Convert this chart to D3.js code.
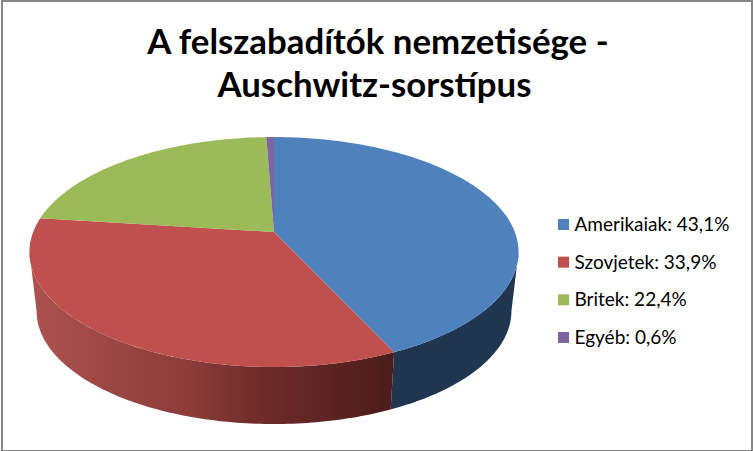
<!DOCTYPE html>
<html>
<head>
<meta charset="utf-8">
<script src="https://cdn.jsdelivr.net/npm/d3@7"></script>
<style>
  html, body { margin: 0; padding: 0; background: #fff; }
  svg { display: block; }
  text { font-family: Lato, "Open Sans", sans-serif; fill: #000; }
</style>
</head>
<body>
<div id="chart"></div>
<script>
let categories = ["Amerikaiak", "Szovjetek", "Britek", "Egyéb"]
let values = [43.1, 33.9, 22.4, 0.6]
let valueLabels = ["43,1%", "33,9%", "22,4%", "0,6%"]
let titleLines = ["A felszabadítók nemzetisége -", "Auschwitz-sorstípus"]
let colors = ["#4f81bd", "#c0504d", "#9bbb59", "#8064a2"]

let width = 753, height = 451

// tilted disc: vertex of the slices sits above the middle of the ellipse
let cx = 274, cy = 232, rx = 240.8, ry = 111.5, persp = 0.174
let depthCy = 252, lowerCy = 311, lowerX = 0.971, lowerY = 0.983

function topPoint(a) {
  let u = Math.sin(a), v = -Math.cos(a)
  let w = 1 - persp * v
  return [cx + rx * u / w, cy + ry * v / w]
}

function lowerPoint(a) {
  let p = topPoint(a)
  return [cx + (p[0] - cx) * lowerX, lowerCy + (p[1] - depthCy) * lowerY]
}

function arcSteps(a0, a1) {
  let n = Math.max(2, Math.ceil((a1 - a0) * 60))
  return d3.range(n + 1).map(i => a0 + (a1 - a0) * i / n)
}

let svg = d3.select("#chart").append("svg")
    .attr("width", width)
    .attr("height", height)

let defs = svg.append("defs")
let redSide = defs.append("linearGradient")
    .attr("id", "redSide")
    .attr("gradientUnits", "userSpaceOnUse")
    .attr("x1", 30).attr("x2", 396).attr("y1", 0).attr("y2", 0)
redSide.append("stop").attr("offset", "0").attr("stop-color", "#ad524e")
redSide.append("stop").attr("offset", "0.45").attr("stop-color", "#8a3b38")
redSide.append("stop").attr("offset", "0.63").attr("stop-color", "#6e2c2a")
redSide.append("stop").attr("offset", "1").attr("stop-color", "#4a1c1b")

svg.append("rect")
    .attr("x", 2).attr("y", 1)
    .attr("width", 750).attr("height", 450)
    .attr("fill", "#fff")
    .attr("stroke", "#868686")
    .attr("stroke-width", 2)

let titleX = [378, 374.5]
let title = svg.append("text")
    .attr("text-anchor", "middle")
    .attr("font-weight", 700)
    .attr("font-size", 34.8)
title.selectAll("tspan")
    .data(titleLines)
  .enter().append("tspan")
    .attr("x", (d, i) => titleX[i])
    .attr("y", (d, i) => 54 + i * 43)
    .text(d => d)

let pie = d3.pie().sort(null)
let slices = pie(values)
let line = d3.line()

// side wall, runs between the two silhouette points of the disc
let wallStart = Math.acos(-persp), wallEnd = 2 * Math.PI - wallStart
let wallFill = ["#1f3550", "url(#redSide)"]
slices.slice(0, 2).forEach((s, i) => {
  let a0 = Math.max(s.startAngle, wallStart)
  let a1 = Math.min(s.endAngle, wallEnd)
  let steps = arcSteps(a0, a1)
  let pts = steps.map(topPoint).concat(steps.slice().reverse().map(lowerPoint))
  svg.append("path")
      .attr("d", line(pts) + "Z")
      .attr("fill", wallFill[i])
})

// top face
svg.selectAll(".slice")
    .data(slices)
  .enter().append("path")
    .attr("class", "slice")
    .attr("d", s => line([[cx, cy]].concat(arcSteps(s.startAngle, s.endAngle).map(topPoint))) + "Z")
    .attr("fill", (s, i) => colors[i])

let legendY = d3.scalePoint().domain(categories).range([224.5, 337.5])

let legend = svg.selectAll(".legend")
    .data(categories)
  .enter().append("g")
    .attr("class", "legend")
    .attr("transform", d => "translate(558," + legendY(d) + ")")

legend.append("rect")
    .attr("x", 0).attr("y", -5.5)
    .attr("width", 11).attr("height", 11)
    .attr("fill", (d, i) => colors[i])

legend.append("text")
    .attr("x", 16.5)
    .attr("y", 6.5)
    .attr("font-size", 19)
    .text((d, i) => d + ": " + valueLabels[i])
</script>
</body>
</html>
